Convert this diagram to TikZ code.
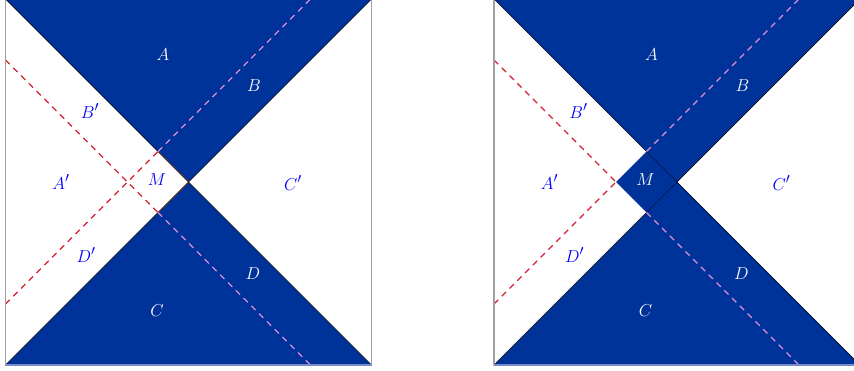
\documentclass[tikz,border=0pt]{standalone}
\definecolor{fillblue}{RGB}{0,51,153}
\definecolor{dashred}{RGB}{215,30,50}
\definecolor{dashpink}{RGB}{225,140,215}
\definecolor{framegray}{RGB}{160,160,160}
\definecolor{framebottom}{RGB}{120,140,200}
\definecolor{edgebrown}{RGB}{150,80,30}
\definecolor{edgedark}{RGB}{0,20,80}
\tikzset{
  region/.style={fill=fillblue, draw=black, line width=0.5pt, line join=miter},
  reddash/.style={draw=dashred, line width=1.3pt, dash pattern=on 6pt off 5pt},
  pinkdash/.style={draw=dashpink, line width=1.3pt, dash pattern=on 6pt off 5pt},
  frameline/.style={draw=framegray, line width=1.2pt},
  lab/.style={inner sep=0pt, font=\fontsize{19}{23}\selectfont},
  wlab/.style={lab, text=white},
  blab/.style={lab, text=blue},
}
\begin{document}
\begin{tikzpicture}[x=1pt,y=-1pt]
\useasboundingbox (0,0) rectangle (854,370);
\clip (0,0) rectangle (854,370);
% ---------- left panel ----------
\begin{scope}[shift={(188.5,182)}]
  \coordinate (lTL) at (-183,-183); \coordinate (lTR) at (183,-183);
  \coordinate (lBL) at (-183,183);  \coordinate (lBR) at (183,183);
  \coordinate (lO) at (0,0);
  \coordinate (lMt) at (-30.5,-30.5); \coordinate (lMb) at (-30.5,30.5);
  \coordinate (lMl) at (-61,0);
  \coordinate (lP1) at (-183,122); \coordinate (lQ1) at (122,-183);
  \coordinate (lP2) at (-183,-122); \coordinate (lQ2) at (122,183);
  \draw[region] (lTL) -- (lTR) -- (lO) -- cycle;
  \draw[region] (lBL) -- (lBR) -- (lO) -- cycle;
  \draw[edgebrown, line width=0.6pt] (lMt) -- (lO) -- (lMb);
  \draw[reddash] (lP1) -- (lMt);
  \draw[pinkdash] (lMt) -- (lQ1);
  \draw[reddash] (lP2) -- (lMb);
  \draw[pinkdash] (lMb) -- (lQ2);
  \draw[frameline] (lBL) -- (lTL) (lTR) -- (lBR);
  \draw[framebottom, line width=1.2pt] (lBL) -- (lBR);
  \node[wlab] (lA) at (-25.5,-127) {$A$};
  \node[wlab] (lB) at (65.5,-96.5) {$B$};
  \node[blab] (lBp) at (-98.5,-71) {$B'$};
  \node[blab] (lAp) at (-127.5,0) {$A'$};
  \node[blab] (lM) at (-31.5,-2) {$M$};
  \node[blab] (lCp) at (104.5,1) {$C'$};
  \node[blab] (lDp) at (-102.5,73) {$D'$};
  \node[wlab] (lD) at (64.5,92) {$D$};
  \node[wlab] (lC) at (-31.5,129) {$C$};
\end{scope}
% ---------- right panel ----------
\begin{scope}[shift={(677,182)}]
  \coordinate (rTL) at (-183,-183); \coordinate (rTR) at (183,-183);
  \coordinate (rBL) at (-183,183);  \coordinate (rBR) at (183,183);
  \coordinate (rO) at (0,0);
  \coordinate (rMt) at (-30.5,-30.5); \coordinate (rMb) at (-30.5,30.5);
  \coordinate (rMl) at (-61,0);
  \coordinate (rP1) at (-183,122); \coordinate (rQ1) at (122,-183);
  \coordinate (rP2) at (-183,-122); \coordinate (rQ2) at (122,183);
  \draw[region] (rTL) -- (rTR) -- (rO) -- cycle;
  \draw[region] (rBL) -- (rBR) -- (rO) -- cycle;
  \fill[fillblue] (rMl) -- (rMt) -- (rO) -- (rMb) -- cycle;
  \draw[edgedark, line width=0.6pt] (rMt) -- (rO) -- (rMb);
  \draw[reddash] (rP1) -- (rMl);
  \draw[pinkdash] (rMt) -- (rQ1);
  \draw[reddash] (rP2) -- (rMl);
  \draw[pinkdash] (rMb) -- (rQ2);
  \draw[frameline] (rBL) -- (rTL) (rTR) -- (rBR);
  \draw[framebottom, line width=1.2pt] (rBL) -- (rBR);
  \node[wlab] (rA) at (-25.5,-127) {$A$};
  \node[wlab] (rB) at (65.5,-96.5) {$B$};
  \node[blab] (rBp) at (-98.5,-71) {$B'$};
  \node[blab] (rAp) at (-127.5,0) {$A'$};
  \node[wlab] (rM) at (-31.5,-2) {$M$};
  \node[blab] (rCp) at (104.5,1) {$C'$};
  \node[blab] (rDp) at (-102.5,73) {$D'$};
  \node[wlab] (rD) at (64.5,92) {$D$};
  \node[wlab] (rC) at (-31.5,129) {$C$};
\end{scope}
\end{tikzpicture}
\end{document}
